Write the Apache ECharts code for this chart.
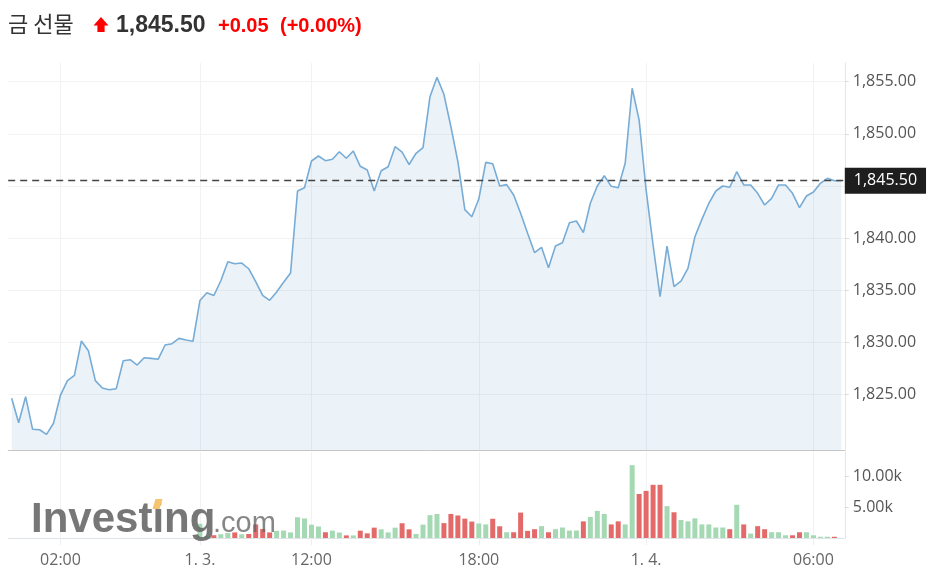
<!DOCTYPE html>
<html><head><meta charset="utf-8">
<script src="https://cdn.jsdelivr.net/npm/echarts@6/dist/echarts.min.js"></script>
<style>html,body{margin:0;padding:0;background:#fff}#c{width:930px;height:581px}</style>
</head><body><div id="c"></div>
<script>
// ---- data ----
const title = '금 선물';
const lastPrice = 1845.50;
const change = 0.05;
const changePct = 0.00;

const price = [
1824.62, 1822.27, 1824.77, 1821.64, 1821.60, 1821.16, 1822.22, 1824.93, 1826.31, 1826.82,
1830.12, 1829.18, 1826.31, 1825.60, 1825.44, 1825.54, 1828.22, 1828.32, 1827.81, 1828.51,
1828.45, 1828.36, 1829.73, 1829.86, 1830.37, 1830.21, 1830.09, 1834.00, 1834.75, 1834.48,
1835.90, 1837.73, 1837.53, 1837.60, 1837.05, 1835.81, 1834.50, 1834.02, 1834.82, 1835.75,
1836.64, 1844.51, 1844.83, 1847.39, 1847.87, 1847.42, 1847.55, 1848.28, 1847.65, 1848.35,
1846.88, 1846.53, 1844.51, 1846.46, 1846.84, 1848.76, 1848.25, 1847.05, 1848.13, 1848.67,
1853.56, 1855.42, 1853.79, 1850.68, 1847.32, 1842.72, 1842.04, 1843.74, 1847.26, 1847.13,
1844.99, 1845.12, 1844.13, 1842.37, 1840.45, 1838.59, 1839.11, 1837.15, 1839.23, 1839.55,
1841.47, 1841.63, 1840.51, 1843.33, 1844.99, 1845.98, 1844.96, 1844.82, 1847.17, 1854.37,
1851.32, 1844.61, 1839.33, 1834.37, 1839.23, 1835.33, 1835.87, 1837.09, 1840.12, 1841.79,
1843.33, 1844.51, 1844.99, 1844.87, 1846.36, 1845.09, 1845.09, 1844.29, 1843.17, 1843.81,
1845.09, 1845.09, 1844.29, 1842.91, 1844.03, 1844.41, 1845.25, 1845.73, 1845.50, 1845.50
];

// volume in thousands
const volumeK = [
0, 0, 0, 0, 0, 0, 0, 0, 0, 0,
0, 0, 0, 0, 0, 0, 0, 0, 0, 0,
0, 0, 0, 0, 0, 0, 0, 2.3, 0.3, 0.45,
0.6, 0.8, 0.9, 0.6, 0.65, 2.19, 1.45, 0.9, 1.15, 1.2,
0.9, 3.35, 3.15, 2.15, 1.86, 0.93, 1.18, 0.88, 0.42, 0.42,
1.18, 0.75, 1.67, 1.4, 0.9, 1.67, 2.38, 1.4, 0.66, 2.16,
3.68, 3.88, 2.4, 3.88, 3.63, 3.12, 2.65, 2.35, 2.19, 3.1,
1.89, 0.93, 0.93, 4.1, 1.15, 1.42, 1.91, 0.93, 1.42, 1.69,
1.2, 1.2, 2.68, 3.39, 4.37, 3.88, 2.19, 2.68, 2.19, 11.75,
7.1, 7.6, 8.58, 8.58, 5.14, 4.15, 2.9, 2.68, 3.17, 2.19,
2.19, 1.69, 1.69, 1.42, 5.36, 2.19, 0.71, 1.91, 1.42, 0.93,
0.93, 0.44, 0.44, 0.93, 0.93, 0.44, 0.2, 0.2, 0.2, 0
];

const timeIndex = price.map((_, i) => String(i));
const xTickIndex = [7, 27, 43, 67, 91, 115];
const xTickLabels = ['02:00', '1. 3.', '12:00', '18:00', '1. 4.', '06:00'];
const priceTicks = [1825, 1830, 1835, 1840, 1845, 1850, 1855];
const volumeTicks = [5000, 10000];

// ---- chart ----
const fmt = v => v.toLocaleString('en-US', {minimumFractionDigits: 2, maximumFractionDigits: 2});
const isTick = (idx) => xTickIndex.indexOf(idx) >= 0;
const UP = '#a4d9b3', DOWN = '#e46a6a';
const labelFont = '"Open Sans", "Noto Sans", sans-serif';

const volData = volumeK.map((v, i) => ({
  value: v * 1000,
  itemStyle: {color: (i === 0 || price[i] >= price[i - 1]) ? UP : DOWN}
}));

const chart = echarts.init(document.getElementById('c'), null, {renderer: 'canvas'});
chart.setOption({
  animation: false,
  backgroundColor: '#fff',
  grid: [
    {left: 8.2, right: 85.2, top: 63, height: 387},
    {left: 8.2, right: 85.2, top: 452, height: 86}
  ],
  xAxis: [
    {
      gridIndex: 0, type: 'category', data: timeIndex, boundaryGap: true,
      axisLine: {show: true, lineStyle: {color: '#c6c6c6', width: 1}},
      axisTick: {show: false},
      axisLabel: {show: false, interval: isTick},
      splitLine: {show: true, interval: isTick, alignWithLabel: true, lineStyle: {color: '#f1f2f4', width: 1}}
    },
    {
      gridIndex: 1, type: 'category', data: timeIndex, boundaryGap: true,
      axisLine: {show: true, lineStyle: {color: '#dfe3ea', width: 1}},
      axisTick: {show: true, interval: isTick, alignWithLabel: true, length: 7, lineStyle: {color: '#eceef2'}},
      axisLabel: {
        show: true, interval: isTick, color: '#666', fontSize: 16, fontFamily: labelFont, margin: 14,
        formatter: (val) => { const k = xTickIndex.indexOf(+val); return k >= 0 ? xTickLabels[k] : ''; }
      },
      splitLine: {show: true, interval: isTick, alignWithLabel: true, lineStyle: {color: '#f1f2f4', width: 1}}
    }
  ],
  yAxis: [
    {
      gridIndex: 0, type: 'value', position: 'right', min: 1819.655, max: 1856.795,
      axisLine: {show: true, lineStyle: {color: '#e2e5ea'}},
      axisTick: {show: true, customValues: priceTicks, length: 4, lineStyle: {color: '#dadde2'}},
      axisLabel: {customValues: priceTicks, formatter: v => fmt(v), color: '#555', fontSize: 16, fontFamily: labelFont, margin: 8},
      splitLine: {show: true, customValues: priceTicks, lineStyle: {color: '#f2f2f3'}}
    },
    {
      gridIndex: 1, type: 'value', position: 'right', min: 0, max: 13870,
      axisLine: {show: true, lineStyle: {color: '#e2e5ea'}},
      axisTick: {show: true, customValues: volumeTicks, length: 4, lineStyle: {color: '#dadde2'}},
      axisLabel: {customValues: volumeTicks, formatter: v => (v / 1000).toFixed(2) + 'k', color: '#555', fontSize: 16, fontFamily: labelFont, margin: 8},
      splitLine: {show: false}
    }
  ],
  series: [
    {
      type: 'line', xAxisIndex: 0, yAxisIndex: 0, data: price,
      showSymbol: false, symbol: 'none',
      lineStyle: {color: '#77acd6', width: 1.6},
      areaStyle: {color: 'rgba(122,168,210,0.22)', origin: 'start'},
      markLine: {
        silent: true, symbol: 'none', animation: false,
        data: [{yAxis: lastPrice}],
        lineStyle: {color: '#444', type: [7, 5], width: 1.4},
        label: {
          show: true, position: 'end', distance: 0, formatter: fmt(lastPrice),
          backgroundColor: '#1e1e1e', color: '#fff', fontSize: 16, fontFamily: labelFont,
          padding: [5, 9, 5, 9]
        }
      }
    },
    {
      type: 'bar', xAxisIndex: 1, yAxisIndex: 1, data: volData,
      barWidth: 5
    }
  ],
  graphic: [
    {type: 'text', x: 8, y: 24, style: {text: title, font: '22px "Noto Sans CJK KR"', fill: '#333', verticalAlign: 'middle'}},
    {type: 'polygon', shape: {points: [[101, 17], [108.5, 25.5], [104.6, 25.5], [104.6, 32], [97.4, 32], [97.4, 25.5], [93.5, 25.5]]}, style: {fill: '#f00'}},
    {type: 'text', x: 116, y: 26, style: {text: fmt(lastPrice), font: 'bold 23px "Liberation Sans"', fill: '#333', verticalAlign: 'middle'}},
    {type: 'text', x: 218, y: 26, style: {text: '+' + change.toFixed(2), font: 'bold 20px "Liberation Sans"', fill: '#f00', verticalAlign: 'middle'}},
    {type: 'text', x: 280, y: 26, style: {text: '(+' + changePct.toFixed(2) + '%)', font: 'bold 20px "Liberation Sans"', fill: '#f00', verticalAlign: 'middle'}},
    {type: 'text', x: 31, y: 520, z: 50, style: {text: 'Investing', font: 'bold 42px "Liberation Sans"', fill: 'rgba(100,100,100,0.88)', verticalAlign: 'middle'}},
    {type: 'text', x: 213, y: 524, z: 50, style: {text: '.com', font: '29px "Liberation Sans"', fill: 'rgba(100,100,100,0.78)', verticalAlign: 'middle'}},
    {type: 'polygon', z: 51, shape: {points: [[152.5, 509], [159.5, 509], [162.5, 499], [155.5, 499]]}, style: {fill: '#f5c46c'}}
  ]
});
</script>
</body></html>
